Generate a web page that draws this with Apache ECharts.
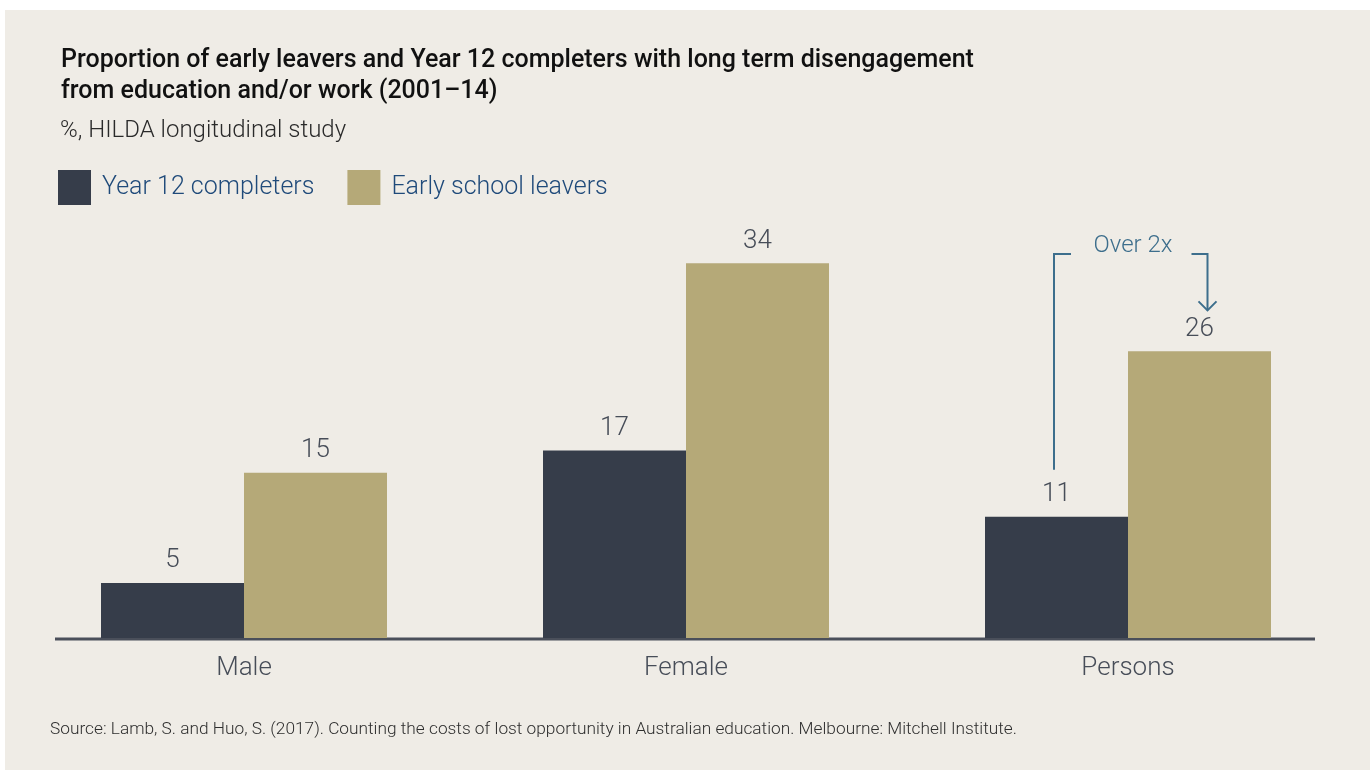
<!DOCTYPE html>
<html>
<head>
<meta charset="utf-8">
<script src="https://cdn.jsdelivr.net/npm/echarts@6/dist/echarts.min.js"></script>
<style>
html,body{margin:0;padding:0;background:#ffffff;}
#chart{width:1370px;height:770px;}
</style>
</head>
<body>
<div id="chart"></div>
<script>
const categories = ['Male', 'Female', 'Persons'];
const year12Completers = [5, 17, 11];
const earlyLeavers = [15, 34, 26];
const seriesNames = ['Year 12 completers', 'Early school leavers'];
const titleText = 'Proportion of early leavers and Year 12 completers with long term disengagement\nfrom education and/or work (2001\u201314)';
const subtitleText = '%, HILDA longitudinal study';
const sourceText = 'Source: Lamb, S. and Huo, S. (2017). Counting the costs of lost opportunity in Australian education. Melbourne: Mitchell Institute.';
const annotationText = 'Over 2x';

const FONT = 'Roboto, "Noto Sans", sans-serif';
const BG = '#efece6';
const DARK = '#363d4a';
const TAN = '#b5a978';
const LABEL = '#474d58';
const BAR_W = 143;

const chart = echarts.init(document.getElementById('chart'), null, {renderer: 'canvas'});

const labelCfg = {
  show: true, position: 'top', distance: 9,
  fontFamily: FONT, fontSize: 26, fontWeight: 300, color: LABEL
};

const option = {
  backgroundColor: '#ffffff',
  animation: false,
  textStyle: {fontFamily: FONT},
  title: [
    {text: titleText, left: 56, top: 40,
     textStyle: {fontFamily: FONT, fontSize: 25, fontWeight: 500, color: '#111111', lineHeight: 31}},
    {text: subtitleText, left: 55, top: 114,
     textStyle: {fontFamily: FONT, fontSize: 24, fontWeight: 300, color: '#2a2a2a'}},
    {text: sourceText, left: 45, top: 716,
     textStyle: {fontFamily: FONT, fontSize: 17.3, fontWeight: 300, color: '#2e2e2e'}}
  ],
  legend: {
    left: 53, top: 165,
    itemWidth: 33, itemHeight: 35, itemGap: 33,
    icon: 'rect',
    data: seriesNames,
    textStyle: {fontFamily: FONT, fontSize: 25, fontWeight: 300, color: '#1f4a7a', padding: [0, 0, 0, 6]}
  },
  grid: {left: 23, right: 21, top: 197, bottom: 132, containLabel: false},
  xAxis: {
    type: 'category', data: categories,
    axisLine: {show: false}, axisTick: {show: false},
    axisLabel: {fontFamily: FONT, fontSize: 26, fontWeight: 300, color: LABEL, margin: 17}
  },
  yAxis: {
    type: 'value', min: 0, max: 40,
    show: false, splitLine: {show: false}
  },
  series: [
    {name: seriesNames[0], type: 'bar', data: year12Completers, barWidth: BAR_W, barGap: '0%',
     itemStyle: {color: DARK}, label: labelCfg},
    {name: seriesNames[1], type: 'bar', data: earlyLeavers, barWidth: BAR_W, barGap: '0%',
     itemStyle: {color: TAN}, label: labelCfg}
  ]
};
chart.setOption(option);

// Background panel, baseline and "Over 2x" bracket placed from the chart's own scales
function drawExtras() {
  const base = chart.convertToPixel({gridIndex: 0}, [0, 0]);
  const yBase = base[1];
  const pIdx = categories.indexOf('Persons');
  const p11 = chart.convertToPixel({gridIndex: 0}, [pIdx, year12Completers[pIdx]]);
  const p26 = chart.convertToPixel({gridIndex: 0}, [pIdx, earlyLeavers[pIdx]]);
  const cx = p11[0];
  const leftX = cx - BAR_W / 2 - 2.5;
  const rightX = cx + BAR_W / 2 + 8;
  const topY = 254;
  const label11Top = p11[1] - 9 - 28;
  const label26Top = p26[1] - 9 - 28;
  const stroke = {stroke: '#3d6e8c', lineWidth: 2, fill: 'none'};
  chart.setOption({
    graphic: [
      {type: 'rect', z: -10, silent: true, shape: {x: 5, y: 10, width: 1365, height: 760}, style: {fill: BG}},
      {type: 'line', shape: {x1: 55, y1: yBase + 1, x2: 1315, y2: yBase + 1}, style: {stroke: '#4a4f5a', lineWidth: 3}},
      {type: 'polyline', shape: {points: [[leftX, label11Top - 10], [leftX, topY], [leftX + 17, topY]]}, style: stroke},
      {type: 'polyline', shape: {points: [[rightX - 16, topY], [rightX, topY], [rightX, label26Top - 4]]}, style: stroke},
      {type: 'polyline', shape: {points: [[rightX - 9, label26Top - 13], [rightX, label26Top - 4], [rightX + 9, label26Top - 13]]}, style: stroke},
      {type: 'text', style: {text: annotationText, x: cx + 5, y: topY - 8,
        textAlign: 'center', textVerticalAlign: 'middle',
        font: '300 24px ' + FONT, fill: '#3d6e8c'}}
    ]
  });
}
drawExtras();
</script>
</body>
</html>
